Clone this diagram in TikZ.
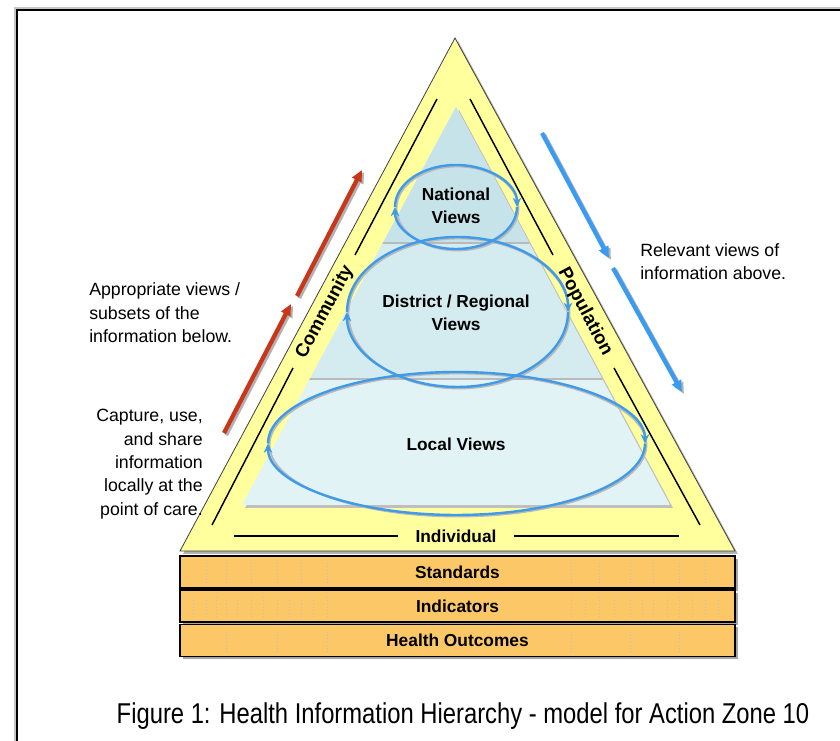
\documentclass[tikz,border=0pt]{standalone}
\usepackage{fontspec}
\setmainfont{Liberation Sans}
\usetikzlibrary{arrows.meta}
\usetikzlibrary{calc}
\usetikzlibrary{shadows}
\definecolor{bandyellow}{HTML}{FFFF9E}
\definecolor{topblue}{HTML}{C6E3E9}
\definecolor{midblue}{HTML}{D4EBEF}
\definecolor{lowblue}{HTML}{E2F3F5}
\definecolor{barorange}{HTML}{FCC867}
\definecolor{upred}{HTML}{C8371A}
\definecolor{downblue}{HTML}{3A9BF2}
\definecolor{loopblue}{HTML}{3F9BEA}
\newcommand{\pyrfont}{\fontsize{13}{17.25}\selectfont\bfseries}
\newcommand{\bandfont}{\fontsize{14}{17}\selectfont\bfseries}
\newcommand{\notefont}{\fontsize{13.3}{17.5}\selectfont}
\tikzset{pyrtext/.style = {font=\pyrfont, align=center, inner sep=0}}
\tikzset{bandtext/.style = {font=\bandfont, inner sep=0}}
\tikzset{notetext/.style = {font=\notefont, inner sep=0}}
\tikzset{bandline/.style = {black, line width=1.1pt}}
\tikzset{bar/.style = {draw=black, line width=0.9pt, fill=barorange,
                       minimum width=416.25pt, minimum height=24pt, inner sep=0,
                       font=\pyrfont,
                       drop shadow={shadow xshift=2pt, shadow yshift=-2pt, fill=gray!70, opacity=1}}}
\tikzset{dotline/.style = {gray!50, line width=0.4pt, dotted}}
\tikzset{cyclearc/.style = {draw=loopblue, line width=1.8pt, -{Stealth[length=7pt, width=6.5pt]}}}
\tikzset{arcshade/.style = {draw=gray!55, line width=1.4pt}}
\tikzset{redarrow/.style = {upred, line width=3.2pt, -{Triangle[length=8.5pt, width=7.5pt]}}}
\tikzset{bluearrow/.style = {downblue, line width=3.2pt, -{Triangle[length=8.5pt, width=7.5pt]}}}
\tikzset{arrowshade/.style = {gray!60, line width=3.2pt, -{Triangle[length=8.5pt, width=7.5pt]}}}

\begin{document}
\begin{tikzpicture}[x=0.75pt, y=0.75pt]
  \useasboundingbox (0,0) rectangle (840,741);
  \fill[white] (0,0) rectangle (840,741);

  % frame
  \draw[gray!45, line width=1.5pt] (15,-5) -- (15,733) -- (845,733);
  \draw[black, line width=1.5pt] (17,-5) -- (17,731) -- (845,731);

  \coordinate (outerTop) at (455,703);
  \coordinate (outerL) at (180,190);
  \coordinate (outerR) at (735,190);
  \coordinate (innerTop) at (456,634);
  \coordinate (innerL) at (242,236);
  \coordinate (innerR) at (670,236);

  % yellow band
  \fill[gray!60] ([shift={(3,-3)}]outerTop) -- ([shift={(3,-3)}]outerL) -- ([shift={(3,-3)}]outerR) -- cycle;
  \draw[draw=black!75, line width=0.6pt, fill=bandyellow] (outerTop) -- (outerL) -- (outerR) -- cycle;

  % blue levels
  \fill[gray!50] ([shift={(3,-3)}]innerTop) -- ([shift={(3,-3)}]innerL) -- ([shift={(3,-3)}]innerR) -- cycle;
  \begin{scope}
    \clip (innerTop) -- (innerL) -- (innerR) -- cycle;
    \fill[lowblue] (0,0) rectangle (840,741);
    \fill[midblue] (0,362) rectangle (840,741);
    \fill[topblue] (0,498) rectangle (840,741);
    \draw[gray!55, line width=0.8pt] (0,362) -- (840,362);
    \draw[gray!55, line width=0.8pt] (0,498) -- (840,498);
  \end{scope}

  % views
  \coordinate (natC) at (456,534);
  \coordinate (disC) at (457.5,429);
  \coordinate (locC) at (456.5,297.5);

  \draw[arcshade] ($(locC)+(1.5,-1.5)$) ellipse [x radius=188.5, y radius=71.5];
  \draw[arcshade] ($(disC)+(1.5,-1.5)$) ellipse [x radius=110.5, y radius=75];
  \draw[arcshade] ($(natC)+(1.5,-1.5)$) ellipse [x radius=61, y radius=42];

  \draw[cyclearc] ($(locC)+(-188.5,0)$) arc[start angle=180, end angle=0, x radius=188.5, y radius=71.5];
  \draw[cyclearc] ($(locC)+(188.5,0)$) arc[start angle=0, end angle=-180, x radius=188.5, y radius=71.5];
  \draw[cyclearc] ($(disC)+(-110.5,0)$) arc[start angle=180, end angle=0, x radius=110.5, y radius=75];
  \draw[cyclearc] ($(disC)+(110.5,0)$) arc[start angle=0, end angle=-180, x radius=110.5, y radius=75];
  \draw[cyclearc] ($(natC)+(-61,0)$) arc[start angle=180, end angle=0, x radius=61, y radius=42];
  \draw[cyclearc] ($(natC)+(61,0)$) arc[start angle=0, end angle=-180, x radius=61, y radius=42];

  \node[pyrtext] (natl) at (456,535.5) {National\\Views};
  \node[pyrtext] (dist) at (456,428.5) {District / Regional\\Views};
  \node[pyrtext] (locl) at (456,297) {Local Views};

  % band labels
  \node[bandtext, rotate=62] (comm) at (325,429) {Community};
  \node[bandtext, rotate=-62] (popu) at (585,429) {Population};
  \node[pyrtext] (indiv) at (456,205) {Individual};

  \coordinate (bl1) at (437,642);
  \coordinate (bl2) at (355,486);
  \coordinate (bl3) at (293,373);
  \coordinate (bl4) at (212,216);
  \coordinate (br1) at (470,642);
  \coordinate (br2) at (553,486);
  \coordinate (br3) at (614,373);
  \coordinate (br4) at (700,216);
  \coordinate (bb1) at (234,205);
  \coordinate (bb2) at (398,205);
  \coordinate (bb3) at (514,205);
  \coordinate (bb4) at (679,205);
  \draw[bandline] (bl1) -- (bl2);
  \draw[bandline] (bl3) -- (bl4);
  \draw[bandline] (br1) -- (br2);
  \draw[bandline] (br3) -- (br4);
  \draw[bandline, line width=1.7pt] (bb1) -- (bb2);
  \draw[bandline, line width=1.7pt] (bb3) -- (bb4);

  % foundation bars
  \node[bar] (std) at (457.5,169) {Standards};
  \foreach \x in {206,226,251,277,301,327,571,599,630,653,679,705}
    \draw[dotline] (\x,158) -- (\x,180);
  \node[bar] (indc) at (457.5,135) {Indicators};
  \foreach \x in {193,206,216,226,237,251,263,277,289,301,313,327,571,585,599,614,630,642,653,667,679,692,705,718}
    \draw[dotline] (\x,124) -- (\x,146);
  \node[bar] (hout) at (457.5,100.5) {Health Outcomes};
  \foreach \x in {226,277,327,571,630,679}
    \draw[dotline] (\x,89.5) -- (\x,111.5);

  % flow arrows
  \coordinate (ra1) at (224,308);
  \coordinate (ra2) at (291,437);
  \coordinate (ra3) at (297,445);
  \coordinate (ra4) at (362,571);
  \coordinate (ba1) at (542,608);
  \coordinate (ba2) at (609,483);
  \coordinate (ba3) at (613,473);
  \coordinate (ba4) at (682,349);
  \draw[arrowshade] ([shift={(2,-2)}]ra1) -- ([shift={(2,-2)}]ra2);
  \draw[arrowshade] ([shift={(2,-2)}]ra3) -- ([shift={(2,-2)}]ra4);
  \draw[arrowshade] ([shift={(2,-2)}]ba1) -- ([shift={(2,-2)}]ba2);
  \draw[arrowshade] ([shift={(2,-2)}]ba3) -- ([shift={(2,-2)}]ba4);
  \draw[redarrow] (ra1) -- (ra2);
  \draw[redarrow] (ra3) -- (ra4);
  \draw[bluearrow] (ba1) -- (ba2);
  \draw[bluearrow] (ba3) -- (ba4);

  % notes
  \node[notetext, align=left, anchor=west] (appr) at (89,428) {Appropriate views /\\subsets of the\\information below.};
  \node[notetext, align=right, anchor=east] (capt) at (203,277) {Capture, use,\\and share\\information\\locally at the\\point of care.};
  \node[notetext, align=left, anchor=west] (relv) at (640,479) {Relevant views of\\information above.};

  \node[font=\fontsize{21.5}{25}\selectfont, inner sep=0] (title) at (463,25)
    {\scalebox{0.83}[1]{Figure 1: Health Information Hierarchy - model for Action Zone 10}};
\end{tikzpicture}
\end{document}
